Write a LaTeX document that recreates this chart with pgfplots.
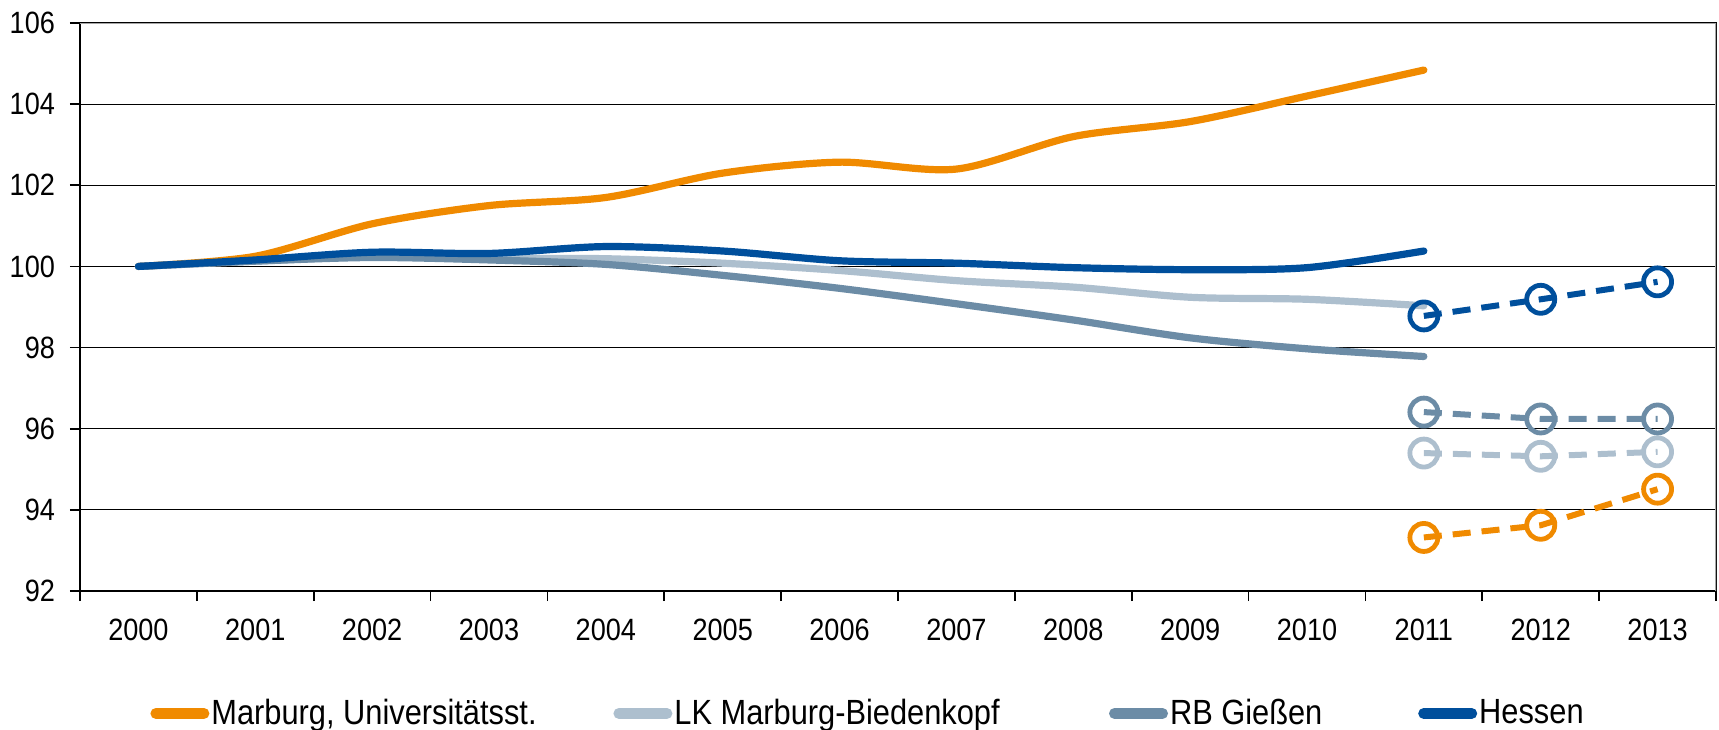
\documentclass[border=0pt]{standalone}
\usepackage{pgfplots}
\pgfplotsset{compat=1.18}
\usepackage{fontspec}
\setmainfont{Liberation Sans}[FakeStretch=0.88]
\usetikzlibrary{calc}
\definecolor{cOr}{RGB}{240,138,0}
\definecolor{cLt}{RGB}{173,191,206}
\definecolor{cMd}{RGB}{108,140,166}
\definecolor{cDk}{RGB}{0,79,156}
\begin{document}
\begin{tikzpicture}
\begin{axis}[name=ax, scale only axis, width=818pt, height=284pt,
  xmin=-0.5, xmax=13.5, ymin=92, ymax=106,
  xtick={0,...,13},
  xticklabels={2000,2001,2002,2003,2004,2005,2006,2007,2008,2009,2010,2011,2012,2013},
  major x tick style={draw=none},
  minor xtick={-0.5,0.5,...,13.5},
  ytick={92,94,...,106},
  ymajorgrids, major grid style={black, line width=0.6pt},
  tick align=outside, tick pos=left,
  major tick length=5pt, minor tick length=5pt,
  axis line style={black, line width=0.8pt},
  tick style={black, line width=0.8pt},
  every tick label/.append style={font=\fontsize{15.4}{18}\selectfont},
  /pgf/number format/assume math mode=true,
  xticklabel style={yshift=-5.7pt},
  yticklabel style={xshift=-4pt},
  legend columns=4,
  legend style={at={(0.0428,-0.2155)}, anchor=west, draw=none, fill=none,
    inner sep=0pt, font=\fontsize{17.5}{21}\selectfont,
    /tikz/every even column/.append style={column sep=0pt},
    nodes={inner sep=1pt}},
  legend image code/.code={\draw[#1, line width=5.5pt, line cap=round] (0pt,0pt) -- (24pt,0pt);},
  every axis plot/.append style={line join=round},
]
% solid series
\addplot[cOr, line width=3.6pt, line cap=round, smooth, tension=0.5] coordinates {
 (0,100.0) (1,100.25) (2,101.05) (3,101.5) (4,101.7) (5,102.3) (6,102.57) (7,102.4) (8,103.2) (9,103.57) (10,104.2) (11,104.84)};
\addlegendentry{\makebox[200pt][l]{Marburg, Universitätsst.}}
\addplot[cLt, line width=3.6pt, line cap=round, smooth, tension=0.5] coordinates {
 (0,100.0) (1,100.13) (2,100.24) (3,100.2) (4,100.19) (5,100.08) (6,99.9) (7,99.65) (8,99.49) (9,99.24) (10,99.19) (11,99.03)};
\addlegendentry{\makebox[216.3pt][l]{LK Marburg-Biedenkopf}}
\addplot[cMd, line width=3.6pt, line cap=round, smooth, tension=0.5] coordinates {
 (0,100.0) (1,100.13) (2,100.22) (3,100.16) (4,100.05) (5,99.78) (6,99.46) (7,99.08) (8,98.68) (9,98.24) (10,97.97) (11,97.78)};
\addlegendentry{\makebox[123.1pt][l]{RB Gießen}}
\addplot[cDk, line width=3.6pt, line cap=round, smooth, tension=0.5] coordinates {
 (0,100.0) (1,100.16) (2,100.35) (3,100.32) (4,100.49) (5,100.38) (6,100.14) (7,100.08) (8,99.97) (9,99.92) (10,99.97) (11,100.38)};
\addlegendentry{Hessen}
% projections
\addplot[forget plot, cOr, line width=3pt, dash pattern=on 9pt off 5.5pt, mark=o, mark size=7pt, mark options={solid, line width=2.4pt}] coordinates {
 (11,93.32) (12,93.62) (13,94.51)};
\addplot[forget plot, cLt, line width=3pt, dash pattern=on 9pt off 5.5pt, mark=o, mark size=7pt, mark options={solid, line width=2.4pt}] coordinates {
 (11,95.4) (12,95.32) (13,95.43)};
\addplot[forget plot, cMd, line width=3pt, dash pattern=on 9pt off 5.5pt, mark=o, mark size=7pt, mark options={solid, line width=2.4pt}] coordinates {
 (11,96.41) (12,96.24) (13,96.24)};
\addplot[forget plot, cDk, line width=3pt, dash pattern=on 9pt off 5.5pt, mark=o, mark size=7pt, mark options={solid, line width=2.4pt}] coordinates {
 (11,98.78) (12,99.19) (13,99.62)};
\draw[gray!70, line width=0.8pt] (rel axis cs:0,1) -- (rel axis cs:1,1) -- (rel axis cs:1,0);
\end{axis}
\pgfresetboundingbox
\useasboundingbox ($(ax.south west)+(-40pt,-69pt)$) rectangle ($(ax.north east)+(1.5pt,11.5pt)$);
\end{tikzpicture}
\end{document}
